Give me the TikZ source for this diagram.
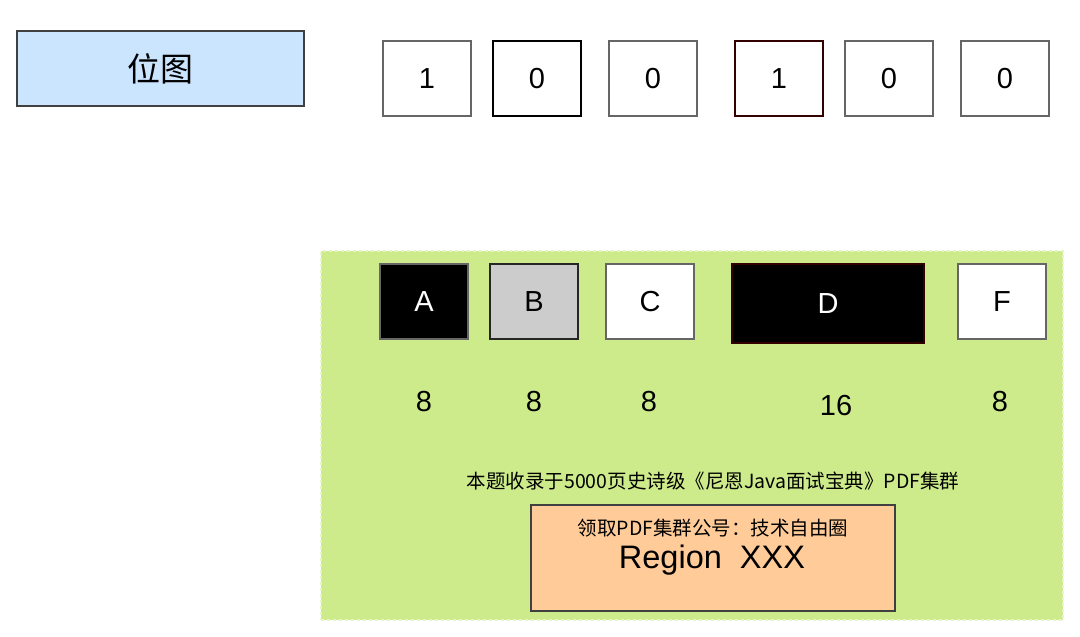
\documentclass[tikz,border=0pt]{standalone}
\usepackage{fontspec}
\setmainfont{Liberation Sans}
\newfontfamily\cjk{Noto Sans CJK SC}
\usepackage{tikz}
\definecolor{bitmapblue}{HTML}{CCE5FF}
\definecolor{regiongreen}{HTML}{CDEB8B}
\definecolor{regionedge}{HTML}{E6F4CA}
\definecolor{edgegray}{HTML}{666666}
\definecolor{edgered}{HTML}{330000}
\definecolor{blockgray}{HTML}{CCCCCC}
\definecolor{peach}{HTML}{FFCC99}
\tikzstyle{bit} = [draw=edgegray, fill=white, line width=1.2pt, minimum width=88pt, minimum height=75pt, inner sep=0pt, font=\fontsize{29}{34}\selectfont]
\tikzstyle{size} = [inner sep=0pt, font=\fontsize{29}{34}\selectfont]

\begin{document}
\begin{tikzpicture}[x=1pt,y=-1pt]
	\useasboundingbox (0,0) rectangle (1080,637);
	% bitmap row
	\node[bit, fill=bitmapblue, draw=black!75, minimum width=287pt, font=\cjk\fontsize{33}{38}\selectfont] (bitmap) at (160.5,68.5) {位图};
	\node[bit] (bit-1) at (427,78.5) {1};
	\node[bit, draw=black] (bit-2) at (537,78.5) {0};
	\node[bit] (bit-3) at (653,78.5) {0};
	\node[bit, draw=edgered] (bit-4) at (779,78.5) {1};
	\node[bit] (bit-5) at (889,78.5) {0};
	\node[bit] (bit-6) at (1005,78.5) {0};
	% region
	\node[fill=regiongreen, draw=regionedge, dashed, line width=1.2pt, minimum width=742pt, minimum height=369pt] (region) at (692,435.5) {};
	\node[bit, fill=black, text=white] (block-A) at (424,301.5) {A};
	\node[bit, fill=blockgray, draw=black!85] (block-B) at (534,301.5) {B};
	\node[bit] (block-C) at (650,301.5) {C};
	\node[bit, fill=black, draw=edgered, text=white, minimum width=192pt, minimum height=79pt] (block-D) at (828,303.5) {D};
	\node[bit] (block-F) at (1002,301.5) {F};
	\node[size] (size-A) at (424,402) {8};
	\node[size] (size-B) at (534,402) {8};
	\node[size] (size-C) at (649,402) {8};
	\node[size] (size-D) at (836,406) {16};
	\node[size] (size-F) at (1000,402) {8};
	\node[inner sep=0pt, font=\cjk\fontsize{19.5}{23}\selectfont] (caption) at (713,481) {本题收录于5000页史诗级《尼恩Java面试宝典》PDF集群};
	\node[fill=peach, draw=black!75, line width=1.2pt, minimum width=364pt, minimum height=106pt] (pdfbox) at (713,558) {};
	\node[inner sep=0pt, font=\cjk\fontsize{19.5}{23}\selectfont] (pdfnote) at (713,528) {领取PDF集群公号：技术自由圈};
	\node[inner sep=0pt, font=\fontsize{32.5}{38}\selectfont] (pdfname) at (712,560) {Region\ \ XXX};
\end{tikzpicture}
\end{document}
